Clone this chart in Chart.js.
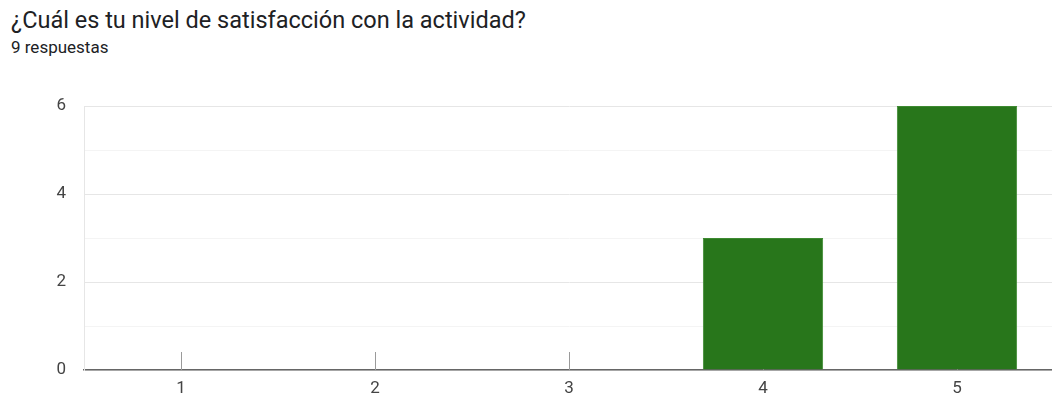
<!DOCTYPE html>
<html>
<head>
<meta charset="utf-8">
<script src="https://cdn.jsdelivr.net/npm/chart.js@4.4.1/dist/chart.umd.min.js"></script>
<style>
  html,body{ margin:0; padding:0; background:#fff; overflow:hidden; width:1052px; height:403px; }
  .t{ position:absolute; left:11px; font-family:Roboto, "Noto Sans", sans-serif; color:#202124; white-space:nowrap; }
  #title{ top:9px; font-size:23.5px; line-height:23.5px; }
  #sub{ top:39px; font-size:17px; line-height:17px; }
  #wrap{ position:absolute; left:0; top:0; width:1060px; height:403px; }
</style>
</head>
<body>
<div class="t" id="title">¿Cuál es tu nivel de satisfacción con la actividad?</div>
<div class="t" id="sub">9 respuestas</div>
<div id="wrap"><canvas id="chart"></canvas></div>
<script>
// datos
const categories = ['1','2','3','4','5'];
const counts = [0, 0, 0, 3, 6];
const yTicks = [0, 2, 4, 6];

const fontFam = 'Roboto, "Noto Sans", sans-serif';

// marcas cortas sobre el eje en cada categoría (quedan tapadas por las barras)
const catMarks = {
  id:'catMarks',
  beforeDatasetsDraw(chart){
    const x = chart.scales.x, y = chart.scales.y;
    const ctx = chart.ctx;
    const base = y.getPixelForValue(0);
    ctx.save();
    ctx.strokeStyle = '#9a9a9a';
    ctx.lineWidth = 1;
    categories.forEach((c,i)=>{
      const px = Math.round(x.getPixelForValue(i)) + 0.5;
      ctx.beginPath();
      ctx.moveTo(px, base);
      ctx.lineTo(px, base - 18);
      ctx.stroke();
    });
    ctx.restore();
  }
};

new Chart(document.getElementById('chart'), {
  type:'bar',
  data:{
    labels: categories,
    datasets:[{
      data: counts,
      backgroundColor:'#28761b',
      borderColor:'#3e8a31',
      borderWidth:{ top:1, left:1, right:1, bottom:0 },
      categoryPercentage:1,
      barPercentage:0.62
    }]
  },
  options:{
    responsive:true,
    maintainAspectRatio:false,
    animation:false,
    layout:{ padding:{ top:106, right:6, left:0, bottom:0 } },
    plugins:{ legend:{ display:false }, tooltip:{ enabled:false } },
    scales:{
      x:{
        grid:{ display:false, drawTicks:false },
        border:{ display:true, color:'#666', width:1.5 },
        ticks:{ color:'#444', padding:9, font:{ family:fontFam, size:17 } },
        afterFit(s){ s.height = 33; }
      },
      y:{
        min:0, max:6,
        grid:{
          drawTicks:false,
          color:(c)=> (c.tick && c.tick.value % 2 === 0) ? '#e6e6e6' : '#f4f4f4'
        },
        border:{ display:true, color:'#e6e6e6' },
        ticks:{
          stepSize:1, color:'#444', padding:18,
          font:{ family:fontFam, size:17 },
          callback:(v)=> yTicks.includes(v) ? String(v) : ''
        },
        afterFit(s){ s.width = 84; }
      }
    }
  },
  plugins:[catMarks]
});
</script>
</body>
</html>
